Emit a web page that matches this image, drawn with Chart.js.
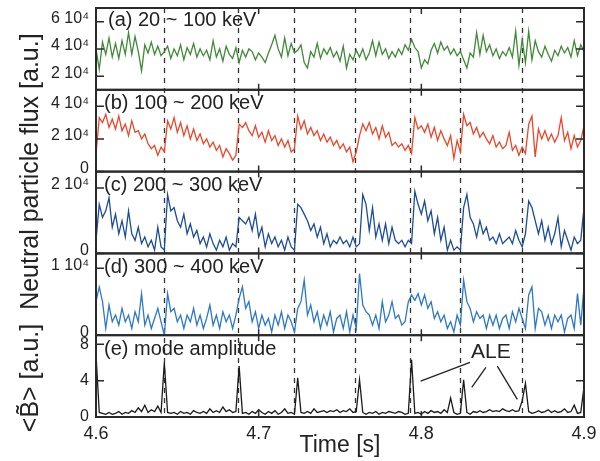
<!DOCTYPE html>
<html>
<head>
<meta charset="utf-8">
<script src="https://cdn.jsdelivr.net/npm/chart.js@4/dist/chart.umd.min.js"></script>
<style>
  html, body { margin: 0; padding: 0; background: #fff; }
  #myChart { display: block; }
</style>
</head>
<body>
<canvas id="myChart" width="600" height="461"></canvas>
<script>
// time grid, 2 ms step, 4.6 .. 4.9 s
let times = [];
for (let i = 0; i <= 150; i++) times.push(4.6 + i * 0.002);

// neutral particle flux, units of 10^4
let fluxA = [ // (a) 20 ~ 100 keV
  4.0, 2.5, 4.5, 3.6, 4.8, 3.4, 4.4, 3.3, 4.6, 3.6, 5.2,
  3.6, 4.9, 3.8, 2.4, 4.3, 3.7, 4.5, 3.6, 4.2, 3.5,
  3.8, 4.2, 3.3, 4.0, 3.5, 4.3, 3.2, 4.1, 3.6, 4.4,
  3.4, 4.0, 3.5, 3.9, 3.2, 4.6, 3.4, 4.0, 3.1, 4.2,
  3.6, 3.3, 4.1, 3.0, 3.9, 3.4, 4.0, 3.8, 3.2, 3.7,
  3.4, 3.0, 3.7, 4.3, 5.0, 4.0, 3.4, 4.8, 3.5, 4.4,
  3.7, 3.9, 4.3, 3.0, 2.6, 3.8, 3.4, 4.4, 3.3, 4.0,
  3.6, 4.1, 3.4, 3.8, 3.1, 4.2, 2.6, 3.6, 3.2, 3.9,
  3.4, 4.0, 3.2, 3.7, 4.6, 3.5, 4.5, 3.6, 4.0, 3.3,
  3.8, 3.4, 4.0, 3.6, 4.3, 3.9, 4.7, 4.1, 3.8, 2.6,
  3.2, 2.9, 3.9, 4.4, 3.7, 4.5, 3.9, 4.2, 3.6, 4.0,
  3.5, 3.8, 3.2, 2.6, 3.7, 3.4, 5.2, 3.6, 5.0, 3.8,
  4.3, 3.5, 4.0, 3.3, 3.8, 3.5, 4.1, 3.4, 5.3, 2.8,
  4.7, 3.0, 5.3, 3.2, 4.6, 3.8, 3.4, 4.2, 3.6, 3.1,
  3.9, 3.5, 4.2, 3.7, 4.1, 3.4, 4.6, 3.5, 4.3, 3.8
];
let fluxB = [ // (b) 100 ~ 200 keV
  1.1, 3.3, 3.0, 3.5, 2.7, 3.2, 2.6, 3.4, 2.5, 2.9, 2.2,
  3.1, 2.4, 2.5, 2.0, 2.3, 1.7, 1.4, 1.6, 1.0, 1.5,
  1.2, 3.1, 2.6, 3.3, 2.4, 3.0, 2.2, 2.8, 2.0, 2.6,
  1.9, 2.3, 1.7, 2.0, 1.5, 1.8, 1.3, 1.6, 0.9, 1.4,
  1.1, 0.7, 1.0, 2.9, 2.7, 3.0, 2.5, 2.2, 2.8, 2.1,
  2.4, 1.8, 2.5, 1.9, 2.2, 1.6, 2.0, 1.5, 1.9, 1.2,
  1.4, 3.4, 2.6, 3.1, 2.3, 2.7, 2.2, 2.5, 1.9, 2.3,
  1.8, 2.1, 1.6, 1.9, 1.4, 1.7, 1.2, 1.5, 0.6, 1.2,
  2.2, 2.9, 2.5, 3.0, 2.3, 2.7, 2.0, 2.8, 2.1, 2.4,
  1.6, 1.8, 1.5, 1.7, 1.3, 1.6, 1.1, 3.3, 2.6, 2.8,
  2.4, 2.9, 2.1, 2.7, 1.9, 2.5, 2.0, 1.6, 2.2, 0.8,
  1.9, 1.2, 3.5, 2.8, 3.0, 2.3, 2.7, 2.1, 2.4, 2.0,
  1.7, 2.2, 1.5, 1.8, 1.4, 1.6, 2.4, 1.3, 1.6, 1.0,
  1.5, 1.1, 2.9, 3.4, 0.9, 2.6, 2.0, 2.5, 1.9, 2.3,
  1.8, 2.2, 3.3, 1.9, 2.4, 1.4, 2.2, 1.5, 1.9, 2.8
];
let fluxC = [ // (c) 200 ~ 300 keV
  0.4, 1.5, 1.1, 1.3, 1.7, 0.8, 1.2, 0.6, 1.0, 0.5, 1.3,
  0.6, 0.4, 0.8, 0.3, 0.5, 0.2, 0.4, 0.1, 0.8, 0.2,
  0.1, 1.8, 1.3, 1.4, 1.0, 0.8, 1.2, 0.6, 0.9, 0.5,
  0.7, 0.3, 0.5, 0.2, 0.6, 0.3, 0.1, 0.4, 0.2, 0.5,
  0.1, 0.3, 0.2, 1.1, 1.0, 0.9, 1.1, 0.7, 1.2, 0.5,
  0.8, 0.2, 0.6, 0.3, 0.5, 0.2, 0.4, 0.1, 0.5, 0.2,
  0.1, 1.5, 1.4, 1.2, 1.0, 0.7, 0.9, 0.5, 0.8, 0.3,
  0.6, 0.2, 0.4, 0.3, 0.5, 0.3, 0.4, 0.2, 0.5, 0.2,
  0.3, 1.8, 1.5, 0.7, 1.4, 0.5, 0.9, 0.4, 0.9, 0.3,
  0.8, 0.4, 0.3, 0.4, 0.2, 0.4, 0.3, 1.9, 1.5, 1.2,
  1.6, 1.0, 1.3, 0.6, 1.1, 0.4, 0.8, 0.1, 0.4, 0.1,
  0.2, 0.1, 1.4, 1.8, 1.1, 0.9, 0.5, 1.0, 0.6, 0.8,
  0.4, 0.5, 0.3, 0.6, 0.3, 0.4, 0.5, 0.3, 0.7, 0.4,
  0.2, 0.6, 1.6, 1.4, 1.0, 0.6, 1.0, 0.4, 0.8, 0.3,
  0.6, 1.1, 0.2, 0.7, 0.4, 0.1, 0.5, 0.3, 0.4, 1.4
];
let fluxD = [ // (d) 300 ~ 400 keV
  0.5, 0.72, 0.5, 0.1, 0.45, 0.2, 0.3, 0.15, 0.4, 0.2, 0.3,
  0.1, 0.35, 0.2, 0.62, 0.15, 0.3, 0.1, 0.25, 0.4, 0.2,
  0.0, 0.62, 0.35, 0.4, 0.2, 0.3, 0.1, 0.3, 0.2, 0.4,
  0.15, 0.3, 0.1, 0.25, 0.45, 0.15, 0.3, 0.1, 0.35, 0.2,
  0.3, 0.1, 0.3, 0.55, 0.72, 0.4, 0.5, 0.2, 0.35, 0.1,
  0.3, 0.15, 0.25, 0.05, 0.3, 0.15, 0.35, 0.1, 0.3, 0.2,
  0.05, 0.4, 0.5, 0.82, 0.3, 0.45, 0.2, 0.35, 0.1, 0.3,
  0.15, 0.35, 0.05, 0.25, 0.3, 0.1, 0.35, 0.05, 0.3, 0.1,
  0.92, 0.45, 0.35, 0.3, 0.15, 0.3, 0.1, 0.5, 0.2, 0.3,
  0.5, 0.25, 0.3, 0.15, 0.2, 0.5, 0.6, 0.52, 0.62, 0.45,
  0.6, 0.4, 0.5, 0.25, 0.35, 0.2, 0.3, 0.1, 0.2, 0.05,
  0.3, 0.15, 0.82, 0.5, 0.4, 0.2, 0.35, 0.25, 0.3, 0.1,
  0.3, 0.15, 0.3, 0.1, 0.25, 0.3, 0.1, 0.35, 0.2, 0.4,
  0.25, 0.1, 0.6, 0.72, 0.1, 0.4, 0.35, 0.15, 0.3, 0.1,
  0.3, 0.2, 0.3, 0.05, 0.25, 0.3, 0.1, 0.62, 0.15, 0.72
];
let modeAmp = [ // (e) mode amplitude <B~>
  6.9, 0.5, 0.4, 0.3, 0.5, 0.3, 0.4, 0.6, 0.3, 0.5, 0.4,
  0.7, 0.5, 1.0, 0.6, 1.3, 0.5, 0.8, 0.6, 1.2, 0.5,
  6.0, 0.5, 0.4, 0.5, 0.3, 0.6, 0.4, 0.5, 0.3, 0.7,
  0.5, 0.4, 0.6, 0.4, 0.9, 0.5, 0.7, 0.5, 1.1, 0.6,
  0.8, 0.5, 0.6, 5.6, 0.4, 0.5, 0.3, 0.6, 0.4, 0.8,
  0.5, 0.3, 0.6, 0.4, 0.7, 0.3, 0.5, 0.9, 0.4, 0.5,
  0.3, 4.3, 0.5, 0.4, 0.6, 0.4, 0.9, 0.5, 0.6, 0.7,
  0.5, 0.7, 0.6, 0.8, 0.5, 0.7, 0.6, 0.9, 0.5, 0.6,
  4.1, 0.5, 0.3, 0.5, 0.4, 0.6, 0.3, 0.5, 0.4, 0.6,
  0.5, 0.4, 0.6, 0.5, 0.3, 0.4, 6.3, 0.4, 0.5, 0.3,
  0.6, 0.4, 0.7, 0.5, 0.6, 0.4, 0.8, 0.5, 2.1, 0.5,
  0.3, 0.4, 4.1, 0.5, 0.3, 0.6, 0.5, 0.7, 0.5, 0.6,
  0.8, 0.6, 0.7, 0.6, 0.9, 0.7, 0.6, 0.8, 0.6, 0.7,
  1.8, 3.7, 0.6, 0.4, 0.5, 0.7, 0.5, 0.6, 0.8, 0.5,
  0.7, 0.5, 0.6, 0.9, 0.5, 0.6, 1.3, 0.4, 0.5, 3.3
];

// ALE event times (dashed lines)
let eventTimes = [4.642, 4.687, 4.7215, 4.7595, 4.793, 4.8235, 4.862];

let xTicks = [4.6, 4.7, 4.8, 4.9];
let ticksA = [2, 4, 6];
let ticksB = [0, 2, 4];
let ticksC = [0, 2];
let ticksD = [0, 1];
let ticksE = [0, 4, 8];

let panelLabels = ['(a) 20 ~ 100 keV', '(b) 100 ~ 200 keV', '(c) 200 ~ 300 keV', '(d) 300 ~ 400 keV', '(e) mode amplitude'];

// ALE annotation in panel (e) data coords: label, then leader lines [t0, v0, t1, v1]
let aleLabel = [4.8428, 7.1];
let aleLines = [
  [4.8299, 6.0, 4.7996, 3.95],
  [4.8397, 5.45, 4.8310, 3.26],
  [4.8467, 5.6, 4.8590, 1.94]
];

const FONT = '"Liberation Sans", Arial, Helvetica, sans-serif';
Chart.defaults.font.family = FONT;
Chart.defaults.color = '#222';

function pts(vals) {
  return vals.map((v, i) => ({x: times[i], y: v}));
}

function fmt4(v) { return v === 0 ? '0' : v + ' 10\u2074'; }

function panelAxis(min, max, tks, weight, fmt, off) {
  return {
    type: 'linear',
    position: 'left',
    stack: 'panels',
    stackWeight: 1,
    weight: weight,
    min: min,
    max: max,
    border: {display: false},
    grid: {display: false, drawTicks: false},
    afterBuildTicks: s => { s.ticks = tks.map(v => ({value: v})); },
    afterFit: s => { s.width = 96; s.paddingTop = 0; s.paddingBottom = 0; },
    ticks: {color: '#222', font: {size: 16}, padding: 7, labelOffset: off, callback: fmt}
  };
}

function line(data, axis, color) {
  return {
    data: pts(data),
    yAxisID: axis,
    borderColor: color,
    borderWidth: 1.3,
    pointRadius: 0,
    tension: 0,
    fill: false
  };
}

const deco = {
  id: 'deco',
  beforeDatasetsDraw(chart) {
    const {ctx, chartArea: a, scales} = chart;
    ctx.save();
    ctx.strokeStyle = '#333';
    ctx.lineWidth = 1.3;
    ctx.setLineDash([5, 5]);
    eventTimes.forEach(t => {
      const x = Math.round(scales.x.getPixelForValue(t)) + 0.5;
      ctx.beginPath();
      ctx.moveTo(x, a.top);
      ctx.lineTo(x, a.bottom);
      ctx.stroke();
    });
    ctx.restore();
  },
  afterDatasetsDraw(chart) {
    const {ctx, chartArea: a, scales} = chart;
    const ids = ['ya', 'yb', 'yc', 'yd', 'ye'];
    ctx.save();
    ctx.strokeStyle = '#2a2a2a';
    ctx.lineWidth = 2;
    ids.forEach((id, k) => {
      const s = scales[id];
      ctx.strokeRect(a.left, s.top, a.right - a.left, s.bottom - s.top);
      // inward y ticks, both sides
      ctx.lineWidth = 1.5;
      s.ticks.forEach(tk => {
        const y = s.getPixelForValue(tk.value);
        ctx.beginPath();
        ctx.moveTo(a.left, y); ctx.lineTo(a.left + 8, y);
        ctx.moveTo(a.right, y); ctx.lineTo(a.right - 8, y);
        ctx.stroke();
      });
      // inward x ticks at top and bottom of panel
      xTicks.forEach(t => {
        const x = scales.x.getPixelForValue(t);
        ctx.beginPath();
        ctx.moveTo(x, s.top); ctx.lineTo(x, s.top + 6);
        ctx.moveTo(x, s.bottom); ctx.lineTo(x, s.bottom - 6);
        ctx.stroke();
      });
      ctx.lineWidth = 2;
      // panel label
      ctx.fillStyle = '#222';
      ctx.font = '20px ' + FONT;
      ctx.textAlign = 'left';
      ctx.textBaseline = 'middle';
      ctx.fillText(panelLabels[k], a.left + (k === 0 ? 12 : 8), s.top + (k === 0 ? 12 : 14));
    });

    // ALE annotation
    const ye = scales.ye, x = scales.x;
    ctx.lineWidth = 1.3;
    ctx.strokeStyle = '#222';
    aleLines.forEach(l => {
      ctx.beginPath();
      ctx.moveTo(x.getPixelForValue(l[0]), ye.getPixelForValue(l[1]));
      ctx.lineTo(x.getPixelForValue(l[2]), ye.getPixelForValue(l[3]));
      ctx.stroke();
    });
    ctx.font = '21px ' + FONT;
    ctx.textAlign = 'center';
    ctx.textBaseline = 'middle';
    ctx.fillText('ALE', x.getPixelForValue(aleLabel[0]), ye.getPixelForValue(aleLabel[1]));
    ctx.restore();
  },
  afterDraw(chart) {
    const {ctx, scales} = chart;
    ctx.save();
    ctx.fillStyle = '#222';
    ctx.font = '25px ' + FONT;
    ctx.textAlign = 'center';
    ctx.textBaseline = 'middle';
    // flux title spans panels a-d
    let top = scales.ya.top, bot = scales.yd.bottom;
    ctx.translate(31, (top + bot) / 2);
    ctx.rotate(-Math.PI / 2);
    ctx.fillText('Neutral particle flux [a.u.]', 0, 0);
    ctx.restore();
    ctx.save();
    ctx.fillStyle = '#222';
    ctx.font = '25px ' + FONT;
    ctx.textAlign = 'center';
    ctx.textBaseline = 'middle';
    ctx.translate(31, 378);
    ctx.rotate(-Math.PI / 2);
    ctx.fillText('<B\u0303> [a.u.]', 0, 0);
    ctx.restore();
  }
};

const config = {
  type: 'line',
  data: {
    datasets: [
      line(fluxA, 'ya', '#3f8a36'),
      line(fluxB, 'yb', '#ec4527'),
      line(fluxC, 'yc', '#1a4c9c'),
      line(fluxD, 'yd', '#2b78c6'),
      line(modeAmp, 'ye', '#1a1a1a')
    ]
  },
  options: {
    responsive: false,
    animation: false,
    devicePixelRatio: 1,
    layout: {padding: {top: 8, right: 16, left: 0, bottom: 0}},
    plugins: {legend: {display: false}, tooltip: {enabled: false}},
    scales: {
      x: {
        type: 'linear',
        min: 4.6,
        max: 4.9,
        border: {display: false},
        grid: {display: false, drawTicks: false},
        afterBuildTicks: s => { s.ticks = xTicks.map(v => ({value: v})); },
        afterFit: s => { s.height = 44; s.paddingLeft = 0; s.paddingRight = 0; },
        ticks: {font: {size: 18}, color: '#222', padding: 6, callback: v => v.toFixed(1)},
        title: {display: true, text: 'Time [s]', font: {size: 23}, color: '#222', padding: {top: 0, bottom: 2}}
      },
      ya: panelAxis(1, 7, ticksA, 5, fmt4, -3),
      yb: panelAxis(0, 5, ticksB, 4, fmt4, -3),
      yc: panelAxis(0, 2.5, ticksC, 3, fmt4, -3),
      yd: panelAxis(0, 1.22, ticksD, 2, fmt4, -3),
      ye: panelAxis(0, 9, ticksE, 1, v => String(v), 0)
    }
  },
  plugins: [deco]
};

const myChart = new Chart(document.getElementById('myChart'), config);
</script>
</body>
</html>
